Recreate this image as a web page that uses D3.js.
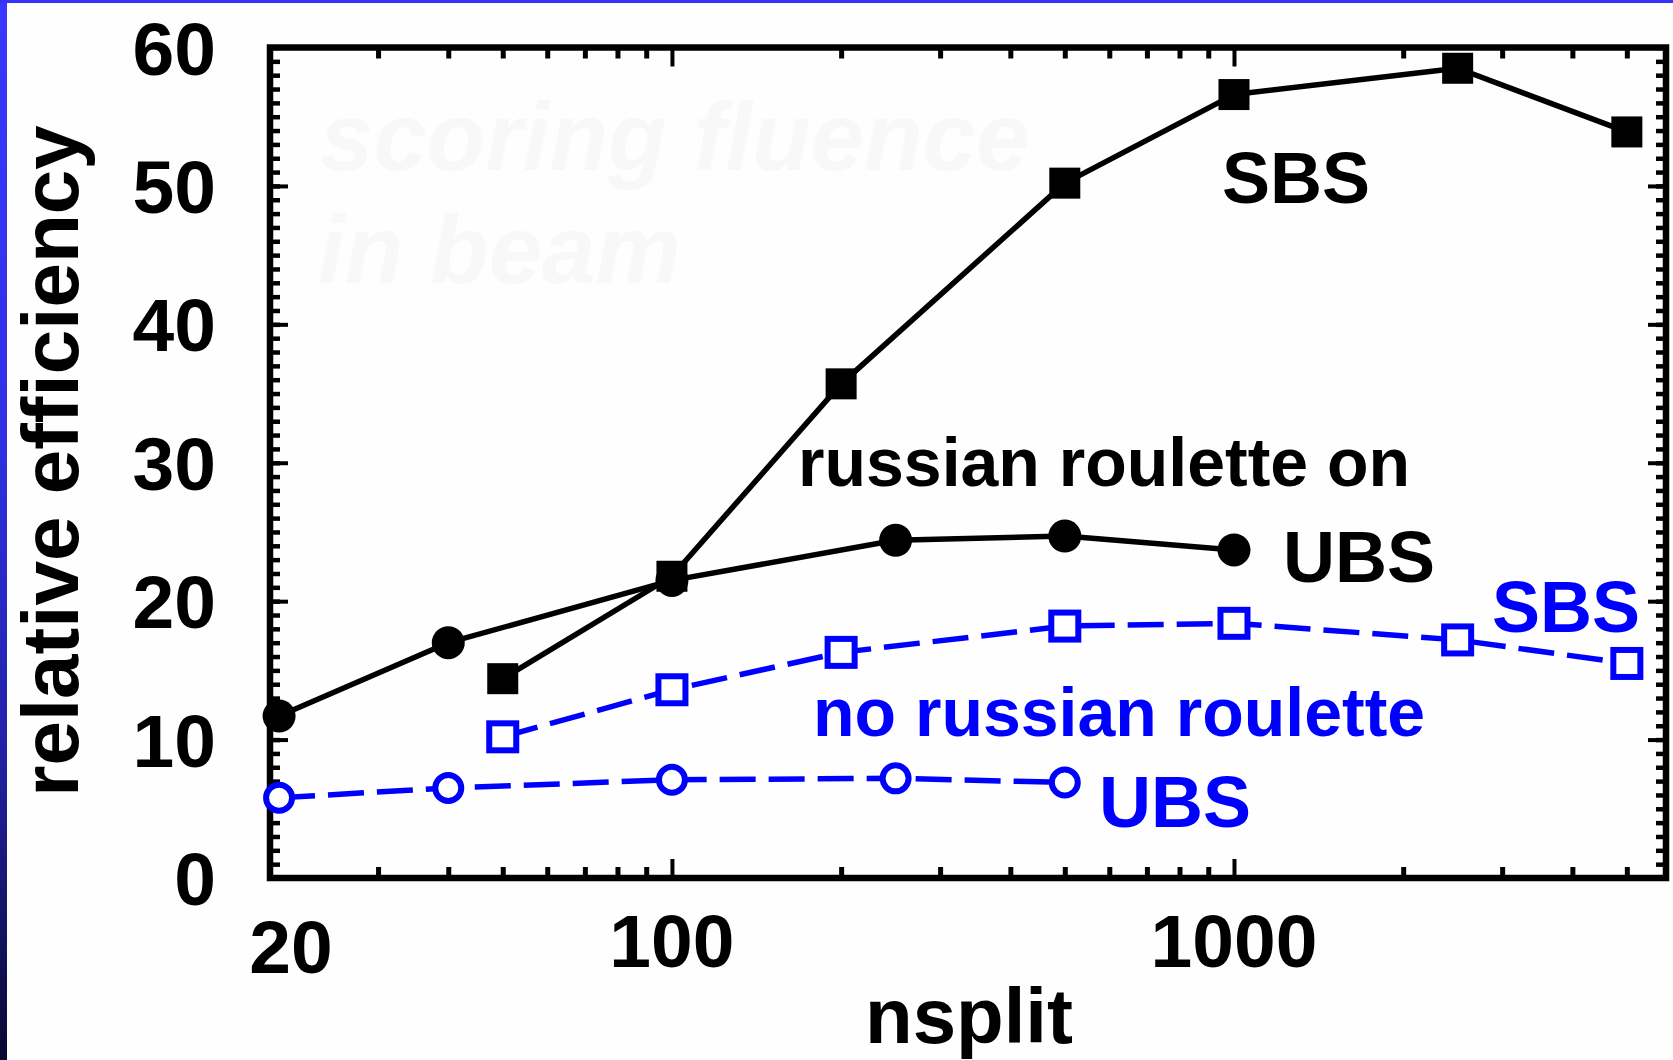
<!DOCTYPE html>
<html>
<head>
<meta charset="utf-8">
<script src="https://cdn.jsdelivr.net/npm/d3@7/dist/d3.min.js"></script>
<style>
  html, body { margin: 0; padding: 0; background: #ffffff; }
  svg { display: block; }
  text { font-family: "Liberation Sans", Arial, sans-serif; font-weight: bold; }
</style>
</head>
<body>
<svg id="chart" width="1673" height="1060"></svg>
<script>
// ---------------- data ----------------
const sbsOnX   = [50, 100, 200, 500, 1000, 2500, 5000];
const sbsOnY   = [14.4, 21.8, 35.7, 50.2, 56.6, 58.5, 53.9];
const ubsOnX   = [20, 40, 100, 250, 500, 1000];
const ubsOnY   = [11.7, 17.0, 21.5, 24.4, 24.7, 23.7];
const sbsOffX  = [50, 100, 200, 500, 1000, 2500, 5000];
const sbsOffY  = [10.2, 13.6, 16.3, 18.2, 18.4, 17.2, 15.5];
const ubsOffX  = [20, 40, 100, 250, 500];
const ubsOffY  = [5.8, 6.5, 7.1, 7.2, 6.9];

const xTickLabels = [20, 100, 1000];
const xMajorTicks = [100, 1000];
const xMinorTicks = [30, 40, 50, 60, 70, 80, 90, 200, 300, 400, 500, 600, 700, 800, 900, 2000, 3000, 4000, 5000];
const yTickLabels = [0, 10, 20, 30, 40, 50, 60];
const yMinorTicks = d3.range(0, 61, 1);

const xTitle = "nsplit";
const yTitle = "relative efficiency";
const watermark = ["scoring fluence", "in beam"];

// ---------------- layout ----------------
const svg = d3.select("#chart");
const BLACK = "#000000", BLUE = "#0000ff";

const x = d3.scaleLog().domain([19.27, 5870]).range([270, 1666]);
const y = d3.scaleLinear().domain([0, 60]).range([878, 47.5]);

// background border decoration
const defs = svg.append("defs");
const grad = defs.append("linearGradient").attr("id", "lbar").attr("x1", 0).attr("y1", 0).attr("x2", 0).attr("y2", 1);
[[0, "#3838ff"], [0.4, "#3030e6"], [0.7, "#2222a8"], [1, "#080830"]].forEach(([o, c]) =>
  grad.append("stop").attr("offset", o).attr("stop-color", c));
svg.append("rect").attr("x", 0).attr("y", 0).attr("width", 1673).attr("height", 1060).attr("fill", "#fefefe");
svg.append("rect").attr("x", 0).attr("y", 0).attr("width", 7).attr("height", 1060).attr("fill", "url(#lbar)");
svg.append("rect").attr("x", 0).attr("y", 0).attr("width", 1673).attr("height", 3).attr("fill", "#3535f8");

// faint watermark
svg.append("text").attr("x", 320).attr("y", 170).attr("font-size", 96).attr("font-style", "italic")
  .attr("fill", "#f8f8f8").text(watermark[0]);
svg.append("text").attr("x", 318).attr("y", 283).attr("font-size", 96).attr("font-style", "italic")
  .attr("fill", "#f8f8f8").text(watermark[1]);

// ---------------- axes / ticks ----------------
function styleTicks(g, w) {
  g.select(".domain").remove();
  g.selectAll(".tick line").attr("stroke", BLACK).attr("stroke-width", w).attr("stroke-linecap", "butt");
  g.selectAll(".tick text").remove();
}
const [x0, x1] = x.range();
const [yb, yt] = y.range();

// bottom
svg.append("g").attr("transform", `translate(0,${yb})`)
  .call(d3.axisBottom(x).tickValues(xMinorTicks).tickSize(-11).tickFormat(""))
  .call(g => styleTicks(g, 5));
svg.append("g").attr("transform", `translate(0,${yb})`)
  .call(d3.axisBottom(x).tickValues(xMajorTicks).tickSize(-19).tickFormat(""))
  .call(g => styleTicks(g, 4));
// top
svg.append("g").attr("transform", `translate(0,${yt})`)
  .call(d3.axisTop(x).tickValues(xMinorTicks).tickSize(-11).tickFormat(""))
  .call(g => styleTicks(g, 5));
svg.append("g").attr("transform", `translate(0,${yt})`)
  .call(d3.axisTop(x).tickValues(xMajorTicks).tickSize(-19).tickFormat(""))
  .call(g => styleTicks(g, 4));
// left
svg.append("g").attr("transform", `translate(${x0},0)`)
  .call(d3.axisLeft(y).tickValues(yMinorTicks).tickSize(-10).tickFormat(""))
  .call(g => styleTicks(g, 4.5));
svg.append("g").attr("transform", `translate(${x0},0)`)
  .call(d3.axisLeft(y).tickValues(yTickLabels).tickSize(-18).tickFormat(""))
  .call(g => styleTicks(g, 4));
// right
svg.append("g").attr("transform", `translate(${x1},0)`)
  .call(d3.axisRight(y).tickValues(yMinorTicks).tickSize(-10).tickFormat(""))
  .call(g => styleTicks(g, 4.5));
svg.append("g").attr("transform", `translate(${x1},0)`)
  .call(d3.axisRight(y).tickValues(yTickLabels).tickSize(-18).tickFormat(""))
  .call(g => styleTicks(g, 4));

// frame
svg.append("rect").attr("x", x0).attr("y", yt).attr("width", x1 - x0).attr("height", yb - yt)
  .attr("fill", "none").attr("stroke", BLACK).attr("stroke-width", 6.5);

// tick labels
svg.append("g").selectAll("text").data(yTickLabels).join("text")
  .attr("x", 216).attr("y", d => y(d)).attr("dy", "0.36em")
  .attr("text-anchor", "end").attr("font-size", 75).attr("fill", BLACK)
  .text(d => d);
svg.append("g").selectAll("text").data(xTickLabels).join("text")
  .attr("x", d => x(d) + (d === xTickLabels[0] ? 12 : 0))
  .attr("y", d => d === xTickLabels[0] ? 973 : 967)
  .attr("text-anchor", "middle").attr("font-size", 75).attr("fill", BLACK)
  .text(d => d);

// axis titles
svg.append("text").attr("x", 969).attr("y", 1043).attr("text-anchor", "middle")
  .attr("font-size", 78).attr("fill", BLACK).text(xTitle);
svg.append("text").attr("transform", "translate(78,461) rotate(-90)").attr("text-anchor", "middle")
  .attr("font-size", 80).attr("fill", BLACK).text(yTitle);

// ---------------- series ----------------
const line = d3.line().x(d => x(d[0])).y(d => y(d[1]));
const zip = (a, b) => a.map((v, i) => [v, b[i]]);

const series = [
  { pts: zip(ubsOffX, ubsOffY), color: BLUE, dash: "36,13", marker: "circle", filled: false },
  { pts: zip(sbsOffX, sbsOffY), color: BLUE, dash: "36,13", marker: "square", filled: false },
  { pts: zip(ubsOnX, ubsOnY), color: BLACK, dash: null, marker: "circle", filled: true },
  { pts: zip(sbsOnX, sbsOnY), color: BLACK, dash: null, marker: "square", filled: true },
];

series.forEach(s => {
  svg.append("path").datum(s.pts).attr("d", line).attr("fill", "none")
    .attr("stroke", s.color).attr("stroke-width", 5.5)
    .attr("stroke-dasharray", s.dash).attr("stroke-linejoin", "round");
});
series.forEach(s => {
  const g = svg.append("g");
  if (s.marker === "circle") {
    g.selectAll("circle").data(s.pts).join("circle")
      .attr("cx", d => x(d[0])).attr("cy", d => y(d[1]))
      .attr("r", s.filled ? 16.5 : 13)
      .attr("fill", s.filled ? s.color : "#ffffff")
      .attr("stroke", s.color).attr("stroke-width", s.filled ? 0 : 6);
  } else {
    const sz = s.filled ? 31 : 27;
    g.selectAll("rect").data(s.pts).join("rect")
      .attr("x", d => x(d[0]) - sz / 2).attr("y", d => y(d[1]) - sz / 2)
      .attr("width", sz).attr("height", sz)
      .attr("fill", s.filled ? s.color : "#ffffff")
      .attr("stroke", s.color).attr("stroke-width", s.filled ? 0 : 6);
  }
});

// ---------------- annotations ----------------
const notes = [
  { t: "SBS", x: 1222, y: 203, c: BLACK, fs: 72 },
  { t: "russian roulette on", x: 798, y: 486, c: BLACK, fs: 68 },
  { t: "UBS", x: 1283, y: 582, c: BLACK, fs: 72 },
  { t: "SBS", x: 1492, y: 632, c: BLUE, fs: 72 },
  { t: "no russian roulette", x: 813, y: 736, c: BLUE, fs: 68 },
  { t: "UBS", x: 1099, y: 827, c: BLUE, fs: 72 },
];
svg.append("g").selectAll("text").data(notes).join("text")
  .attr("x", d => d.x).attr("y", d => d.y).attr("fill", d => d.c)
  .attr("font-size", d => d.fs).text(d => d.t);
</script>
</body>
</html>
